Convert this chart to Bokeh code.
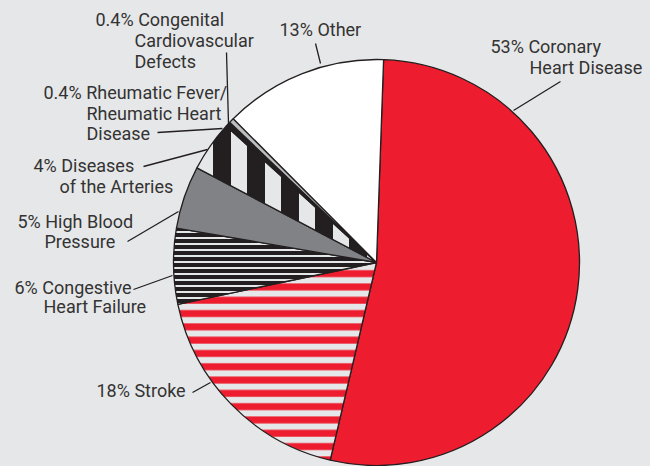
import numpy as np
from bokeh.plotting import figure
from bokeh.models import Range1d
from bokeh.core.properties import value
from bokeh.embed import file_html
from bokeh.resources import INLINE

# ---- data ----
categories = ["Coronary Heart Disease", "Stroke", "Congestive Heart Failure",
              "High Blood Pressure", "Diseases of the Arteries",
              "Rheumatic Fever/Rheumatic Heart Disease",
              "Congenital Cardiovascular Defects", "Other"]
percent = [53, 18, 6, 5, 4, 0.4, 0.4, 13]
label_lines = [
    ["53% Coronary", "Heart Disease"],
    ["18% Stroke"],
    ["6% Congestive", "Heart Failure"],
    ["5% High Blood", "Pressure"],
    ["4% Diseases", "of the Arteries"],
    ["0.4% Rheumatic Fever/", "Rheumatic Heart", "Disease"],
    ["0.4% Congenital", "Cardiovascular", "Defects"],
    ["13% Other"],
]

# ---- styles ----
BG = "#e6e7e8"
RED = "#ed1c2e"
BLACK = "#231f20"
styles = [
    dict(fill_color=RED, hatch_pattern=None),
    dict(fill_color=BG, hatch_pattern="horizontal_line", hatch_color=RED, hatch_scale=13.3, hatch_weight=7),
    dict(fill_color=BLACK, hatch_pattern="horizontal_line", hatch_color=BG, hatch_scale=6, hatch_weight=2),
    dict(fill_color="#808285", hatch_pattern=None),
    dict(fill_color=BG, hatch_pattern="vertical_line", hatch_color=BLACK, hatch_scale=34, hatch_weight=18),
    dict(fill_color=BLACK, hatch_pattern=None),
    dict(fill_color="#bcbec0", hatch_pattern=None),
    dict(fill_color="white", hatch_pattern=None),
]

# ---- layout (reference pixel coordinates, y downwards) ----
W, H = 650, 466
CX, CY, R = 376, 262, 203
START_OFFSET = 2.0  # degrees clockwise from 12 o'clock
text_pos = [
    [(490, 46), (529, 67)],
    [(96, 390)],
    [(14, 287), (43, 306)],
    [(17, 221), (44, 241)],
    [(33, 165), (59, 186)],
    [(43, 92), (86, 113), (86, 133)],
    [(95, 19), (134, 40), (134, 61)],
    [(279, 29)],
]
leaders = [
    ((560, 81), (513, 110)),
    ((192, 392), (210, 382)),
    ((133, 289), (172, 275)),
    ((127, 241), (178, 211)),
    ((143, 166), (207, 149)),
    ((157, 132), (222, 128)),
    ((226, 52), (228, 123)),
    ((315, 43), (320, 63)),
]

p = figure(width=W, height=H, x_range=Range1d(0, W), y_range=Range1d(0, H),
           output_backend="svg", toolbar_location=None, min_border=0)
p.axis.visible = False
p.grid.visible = False
p.outline_line_color = None
p.background_fill_color = BG
p.border_fill_color = BG

vals = np.array(percent, dtype=float)
frac = vals / vals.sum()
cum = np.concatenate([[0], np.cumsum(frac)])
for i in range(len(vals)):
    a0 = 90 - START_OFFSET - cum[i] * 360
    a1 = 90 - START_OFFSET - cum[i + 1] * 360
    st = styles[i]
    kw = dict(fill_color=st["fill_color"], line_color=BLACK, line_width=1.3)
    if st["hatch_pattern"]:
        kw.update(hatch_pattern=st["hatch_pattern"], hatch_color=st["hatch_color"],
                  hatch_scale=st["hatch_scale"], hatch_weight=st["hatch_weight"])
    p.wedge(x=[CX], y=[H - CY], radius=R, start_angle=[a0], end_angle=[a1],
            start_angle_units="deg", end_angle_units="deg", direction="clock", **kw)

p.segment(x0=[a[0] for a, b in leaders], y0=[H - a[1] for a, b in leaders],
          x1=[b[0] for a, b in leaders], y1=[H - b[1] for a, b in leaders],
          line_color=BLACK, line_width=1.3)

xs, ys, ts = [], [], []
for lines, poss in zip(label_lines, text_pos):
    for t, (x, y) in zip(lines, poss):
        xs.append(x); ys.append(H - y); ts.append(t)
p.text(x=xs, y=ys, text=ts, text_font=value("Roboto"), text_font_size="18px",
       text_color="#333333", text_align="left", text_baseline="middle")

html = file_html(p, INLINE)
html = html.replace("<head>", "<head><style>body{background:#e6e7e8;}</style>", 1)
open("out.html", "w").write(html)
